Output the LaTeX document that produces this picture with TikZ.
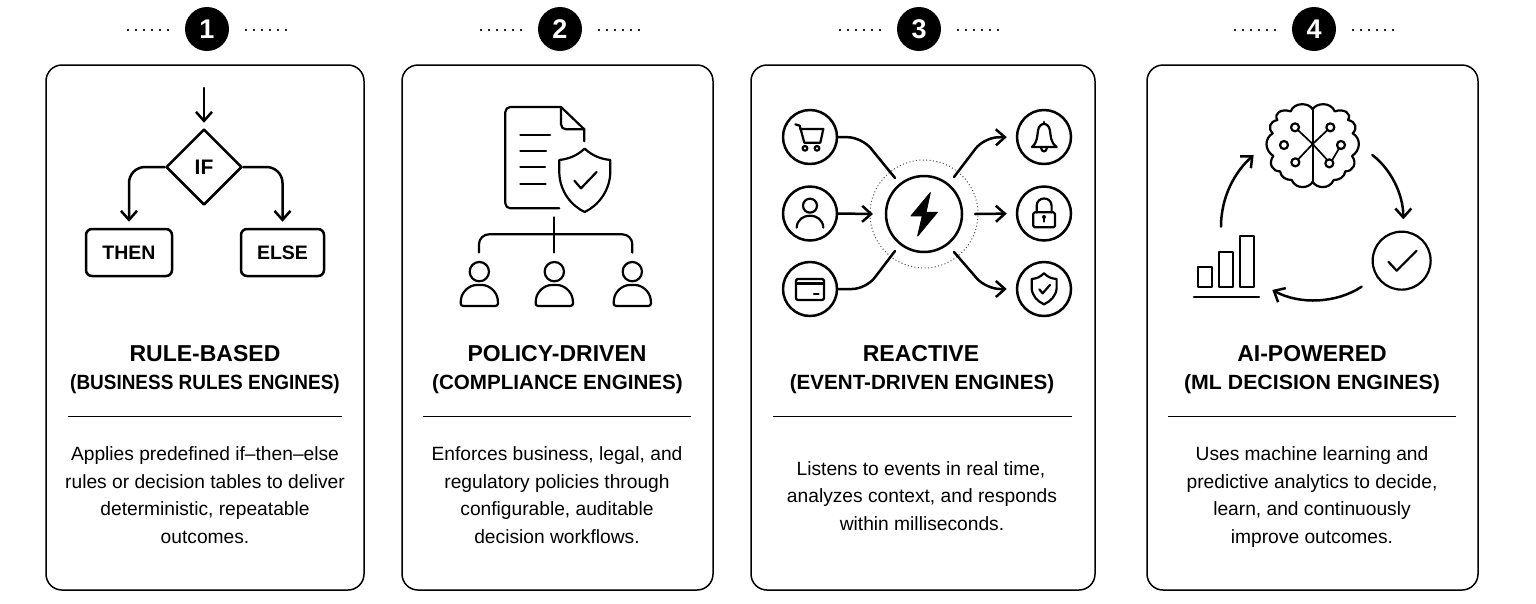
\documentclass[tikz,border=0pt]{standalone}
\usepackage{graphicx}
\usepackage{fontspec}
\setmainfont{Liberation Sans}
\usetikzlibrary{arrows.meta,shapes.geometric,calc}
\tikzset{
  card/.style={draw=black,line width=1.5pt,rounded corners=16pt,fill=white},
  badge/.style={circle,fill=black,text=white,minimum size=44pt,inner sep=0pt,font=\fontsize{27}{27}\selectfont\bfseries},
  dotrow/.style={line width=2pt,dash pattern=on 2pt off 6pt,draw=black!85},
  ink/.style={draw=black,line width=2.5pt,line cap=round,line join=round},
  thin ink/.style={draw=black,line width=2.2pt,line cap=round,line join=round},
  arrow ink/.style={ink,-{Straight Barb[length=9pt,width=16pt,line width=2.5pt]}},
  divider/.style={draw=black,line width=1.2pt},
  title/.style={font=\fontsize{23}{23}\selectfont\bfseries,inner sep=0pt,anchor=center},
  subtitle/.style={font=\fontsize{20.6}{21}\selectfont\bfseries,inner sep=0pt,anchor=center},
  body/.style={font=\fontsize{19.2}{19}\selectfont,inner sep=0pt,anchor=base},
  flow/.style={ink,font=\fontsize{19.5}{21}\selectfont\bfseries,inner sep=0pt},
  ring/.style={circle,ink,minimum size=54pt,inner sep=0pt},
  z2/.style={shift={(400,0)},x=0.3333pt,y=-0.3333pt},
  z3/.style={shift={(750,80)},x=0.3333pt,y=-0.3333pt},
  z4/.style={shift={(1150,90)},x=0.3333pt,y=-0.3333pt},
  z5/.style={shift={(1312.67,100)},x=0.3333pt,y=-0.3333pt},
}
\newcommand{\numbadge}[3]{%
  \node[badge] (b#1) at (#2,29) {#1};
  \coordinate (bl#1) at ($(b#1.center)+(-80,0.5)$);
  \coordinate (br#1) at ($(b#1.center)+(38,0.5)$);
  \draw[dotrow] (bl#1) -- ++(42,0);
  \draw[dotrow] (br#1) -- ++(42,0);
}
\begin{document}
\begin{tikzpicture}[x=1pt,y=-1pt]
\useasboundingbox[fill=white] (0,0) rectangle (1536,603);

% cards
\draw[card] (46,65) rectangle (364,590);
\draw[card] (402,65) rectangle (713,590);
\draw[card] (751,65) rectangle (1095,590);
\draw[card] (1147,65) rectangle (1478,590);

% badges
\numbadge{1}{207}{}
\numbadge{2}{560}{}
\numbadge{3}{919}{}
\numbadge{4}{1314}{}

% --- card 1 ---
\node[flow,diamond,aspect=1,minimum size=76pt,font=\fontsize{21}{21}\selectfont\bfseries] (ifn) at (204,167) {IF};
\node[flow,rectangle,rounded corners=6pt,minimum width=86pt,minimum height=47pt] (thenn) at (129,252.5) {THEN};
\node[flow,rectangle,rounded corners=6pt,minimum width=83pt,minimum height=47pt] (elsen) at (282.5,252.5) {ELSE};
\coordinate (startarrow) at (204,88);
\draw[arrow ink,shorten >=5pt] (startarrow) -- (ifn.north);
\draw[arrow ink,rounded corners=16pt,shorten >=6pt] (ifn.west) -| (thenn.north);
\draw[arrow ink,rounded corners=16pt,shorten >=6pt] (ifn.east) -| (elsen.north);

% --- card 2 ---
\begin{scope}[z2]
  \draw[thin ink,rounded corners=5pt] (478,625) -- (316,625) -- (316,321) -- (483,321);
  \draw[thin ink] (483,321) -- (553,388) -- (553,424);
  \draw[thin ink,rounded corners=5pt] (483,321) -- (483,388) -- (553,388);
  \draw[thin ink] (361,405) -- (450,405);
  \draw[thin ink] (361,452) -- (438,452);
  \draw[thin ink] (361,500) -- (435,500);
  \draw[thin ink] (361,551) -- (437,551);
  \draw[thin ink] (554,446) .. controls (530,468) and (505,477) .. (478,480)
     -- (478,520) .. controls (480,575) and (515,618) .. (554,636)
     .. controls (593,618) and (628,575) .. (631,520) -- (631,480)
     .. controls (603,477) and (578,468) .. (554,446) -- cycle;
  \draw[thin ink] (523,542) -- (543,565) -- (590,516);
  \draw[thin ink] (462,652) -- (462,758);
  \draw[thin ink,rounded corners=10pt] (237,758) -- (237,703) -- (697,703) -- (697,758);
  \foreach \cx in {238,463,697} {
    \draw[thin ink] (\cx,815) circle[radius=29];
    \draw[thin ink,rounded corners=2.5pt] (\cx-56,918) -- (\cx-56,905)
      .. controls (\cx-52,875) and (\cx-30,855) .. (\cx,855)
      .. controls (\cx+30,855) and (\cx+52,875) .. (\cx+56,905)
      -- (\cx+56,918) -- cycle;
  }
\end{scope}

% --- card 3 ---
\node[circle,draw=black!70,line width=1pt,dash pattern=on 1pt off 2.4pt,minimum size=108pt,inner sep=0pt] (halo) at (924,214) {};
\node[ring,minimum size=76pt] (hub) at (924,214) {};
\node[ring] (cart) at (810,137) {};
\node[ring] (user) at (810,213.5) {};
\node[ring] (pay) at (810,289) {};
\node[ring] (bell) at (1044,137) {};
\node[ring] (lock) at (1044,213.5) {};
\node[ring] (guard) at (1044,289) {};
\coordinate (hubnw) at (895,178);
\coordinate (hubsw) at (895,251);
\coordinate (hubne) at (954,177);
\coordinate (hubse) at (954,252);
\coordinate (hubw) at (873,214);
\coordinate (hube) at (975,214);
\draw[ink,rounded corners=14pt] (cart.east) -- (862,137.5) -- (hubnw);
\draw[arrow ink] (user.east) -- (hubw);
\draw[ink,rounded corners=14pt] (pay.east) -- (866,289) -- (hubsw);
\draw[arrow ink,rounded corners=14pt,shorten >=9pt] (hubne) -- (984,137.5) -- (bell.west);
\draw[arrow ink,shorten >=9pt] (hube) -- (lock.west);
\draw[arrow ink,rounded corners=14pt,shorten >=9pt] (hubse) -- (986,289) -- (guard.west);
\begin{scope}[z3]
  \fill[black] (541,338) -- (483,408) -- (517,408) -- (503,468) -- (562,397) -- (528,397) -- cycle;
  \draw[black,line width=1pt,line join=round] (541,338) -- (483,408) -- (517,408) -- (503,468) -- (562,397) -- (528,397) -- cycle;
  % cart
  \draw[thin ink] (136,133) -- (149,137) -- (163,188) -- (211,188) -- (220,147) -- (150,147);
  \draw[thin ink] (165,205) circle[radius=7];
  \draw[thin ink] (201,205) circle[radius=7];
  % user
  \draw[thin ink] (180,377) circle[radius=21];
  \draw[thin ink] (140,443) .. controls (142,395) and (218,395) .. (220,443);
  % credit card
  \draw[thin ink,rounded corners=1.5pt] (138,597) rectangle (222,660);
  \draw[line width=3pt,draw=black] (138,612) -- (222,612);
  \draw[thin ink] (192,643) -- (206,643);
  % bell
  \draw[thin ink] (882,126) -- (882,132);
  \draw[thin ink,line join=round] (846,201) .. controls (862,190) and (862,165) .. (864,152)
     .. controls (868,125) and (896,125) .. (900,152)
     .. controls (902,165) and (902,190) .. (920,201) -- cycle;
  \draw[thin ink] (873,203) .. controls (875,218) and (889,218) .. (891,203);
  % lock
  \draw[thin ink,rounded corners=1.5pt] (850,397) rectangle (915,442);
  \draw[thin ink] (860,397) -- (860,378) .. controls (860,348) and (905,348) .. (905,378) -- (905,397);
  \fill[black] (882,411) circle[radius=6];
  \draw[thin ink] (882,411) -- (882,425);
  % guard
  \draw[thin ink] (882,580) .. controls (870,592) and (858,596) .. (845,597)
     -- (845,625) .. controls (847,648) and (862,664) .. (882,673)
     .. controls (902,664) and (918,648) .. (920,625) -- (920,597)
     .. controls (906,596) and (894,592) .. (882,580) -- cycle;
  \draw[thin ink] (868,628) -- (878,640) -- (900,615);
\end{scope}

% --- card 4 ---
\begin{scope}[z5]
  \foreach \s in {1,-1} {
    \begin{scope}[xscale=\s]
      \draw[thin ink] (0,28) .. controls (-10,8) and (-55,5) .. (-66,34)
        .. controls (-95,25) and (-118,40) .. (-106,60)
        .. controls (-130,65) and (-135,85) .. (-120,100)
        .. controls (-145,115) and (-145,150) .. (-118,168)
        .. controls (-135,190) and (-120,215) .. (-98,214)
        .. controls (-95,232) and (-80,240) .. (-63,240)
        .. controls (-50,270) and (-10,265) .. (0,245);
    \end{scope}
  }
  \draw[thin ink] (0,24) -- (0,248);
  \draw[draw=black,line width=1.7pt,line cap=round] (-53,82) -- (0,132) -- (53,190) -- (85,135);
  \draw[draw=black,line width=1.7pt,line cap=round] (53,82) -- (0,132) -- (-52,187);
  \foreach \px/\py in {-53/82,53/82,-86/135,85/135,-52/187,50/190}
    \draw[thin ink,fill=white] (\px,\py) circle[radius=12];
\end{scope}
\begin{scope}[z4]
  \draw[arrow ink] (667,195) .. controls (720,235) and (760,310) .. (760,388);
  \draw[arrow ink] (635,590) .. controls (560,640) and (450,645) .. (367,600);
  \draw[arrow ink] (213,410) .. controls (213,320) and (255,245) .. (311,195);
  \draw[thin ink] (755,512) circle[radius=87];
  \draw[thin ink] (715,515) -- (740,542) -- (800,482);
  \draw[thin ink] (145,530) rectangle (185,590);
  \draw[thin ink] (207,487) rectangle (248,590);
  \draw[thin ink] (270,438) rectangle (312,590);
  \draw[thin ink] (132,620) -- (327,620);
\end{scope}

% --- headings and dividers ---
\node[title] (t1) at (205,354) {RULE-BASED};
\node[subtitle] (s1) at (205,384.5) {\scalebox{0.92}[1]{(BUSINESS RULES ENGINES)}};
\draw[divider] (68,416.5) -- (342,416.5);
\node[title] (t2) at (557,354) {POLICY-DRIVEN};
\node[subtitle] (s2) at (557.5,384.5) {(COMPLIANCE ENGINES)};
\draw[divider] (423,416.5) -- (691,416.5);
\node[title] (t3) at (921,354) {REACTIVE};
\node[subtitle] (s3) at (922,384.5) {(EVENT-DRIVEN ENGINES)};
\draw[divider] (773,416.5) -- (1072,416.5);
\node[title] (t4) at (1312,354) {AI-POWERED};
\node[subtitle] (s4) at (1312,384.5) {\scalebox{1.035}[1]{(ML DECISION ENGINES)}};
\draw[divider] (1168,416.5) -- (1456,416.5);

% --- body text ---
\node[body] (a1) at (205,460) {Applies predefined if–then–else};
\node[body] (a2) at (205,488) {rules or decision tables to deliver};
\node[body] (a3) at (205,515) {deterministic, repeatable};
\node[body] (a4) at (205,543) {outcomes.};
\node[body] (c1) at (557,460) {Enforces business, legal, and};
\node[body] (c2) at (557,488) {regulatory policies through};
\node[body] (c3) at (557,515) {configurable, auditable};
\node[body] (c4) at (557,543) {decision workflows.};
\node[body] (d1) at (921,475) {Listens to events in real time,};
\node[body] (d2) at (922,502.5) {analyzes context, and responds};
\node[body] (d3) at (922,530) {within milliseconds.};
\node[body] (e1) at (1312,460) {Uses machine learning and};
\node[body] (e2) at (1312,488) {predictive analytics to decide,};
\node[body] (e3) at (1312,515) {learn, and continuously};
\node[body] (e4) at (1312,543) {improve outcomes.};
\end{tikzpicture}
\end{document}
